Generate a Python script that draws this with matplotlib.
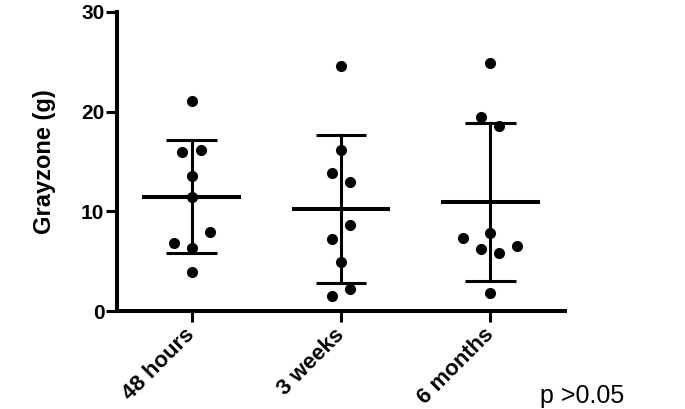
import numpy as np
import matplotlib
matplotlib.use("Agg")
import matplotlib.pyplot as plt

plt.rcParams['font.family'] = ['Liberation Sans', 'DejaVu Sans']

categories = ["48 hours", "3 weeks", "6 months"]
values_48h = [21.1, 16.0, 16.15, 13.5, 11.4, 7.9, 6.85, 6.3, 3.95]
values_3w = [24.6, 16.15, 13.8, 12.97, 8.63, 7.22, 4.88, 2.24, 1.54]
values_6m = [24.9, 19.5, 18.55, 7.79, 7.32, 6.52, 6.22, 5.79, 1.77]
x_offsets_48h = [0, -0.062, 0.062, 0, 0, 0.123, -0.118, 0, 0]
x_offsets_3w = [0, 0, -0.058, 0.06, 0.06, -0.058, 0, 0.06, -0.058]
x_offsets_6m = [0, -0.06, 0.06, 0, -0.183, 0.18, -0.06, 0.06, 0]
yticks = [0, 10, 20, 30]
p_text = "p >0.05"

groups = [values_48h, values_3w, values_6m]
offsets = [x_offsets_48h, x_offsets_3w, x_offsets_6m]

fig = plt.figure(figsize=(6.85, 4.09), dpi=100)
ax = fig.add_axes([0.1708, 0.2396, 0.6540, 0.7311])

for i, (vals, offs) in enumerate(zip(groups, offsets)):
    v = np.array(vals)
    xs = i + np.array(offs)
    m = v.mean()
    sd = v.std(ddof=1)
    ax.scatter(xs, v, s=64, color='black', zorder=3, clip_on=False, linewidths=0)
    ax.plot([i - 0.33, i + 0.33], [m, m], color='black', lw=2.9, solid_capstyle='butt', zorder=2)
    ax.plot([i, i], [m - sd, m + sd], color='black', lw=2.2, zorder=2)
    for y in (m - sd, m + sd):
        ax.plot([i - 0.17, i + 0.17], [y, y], color='black', lw=2.2, solid_capstyle='butt', zorder=2)

ax.set_xlim(-0.5, 2.5)
ax.set_ylim(0, 30)
ax.set_yticks(yticks)
ax.set_yticklabels([str(t) for t in yticks], fontsize=15, fontweight='bold')
ax.set_xticks(range(len(categories)))
ax.set_xticklabels(categories, fontsize=16, fontweight='bold', rotation=45,
                   ha='right', va='center', rotation_mode='anchor')

for s in ['top', 'right']:
    ax.spines[s].set_visible(False)
for s in ['left', 'bottom']:
    ax.spines[s].set_linewidth(2.9)
ax.tick_params(axis='both', width=2.2, length=8, color='black')
ax.tick_params(axis='y', pad=1)
ax.tick_params(axis='x', pad=7)

ax.set_ylabel("Grayzone (g)", fontsize=17, fontweight='bold')
ax.yaxis.set_label_coords(-0.137, 0.5)

fig.text(0.788, 0.0147, p_text, fontsize=18, ha='left', va='baseline')

fig.savefig("out.png", dpi=100)
